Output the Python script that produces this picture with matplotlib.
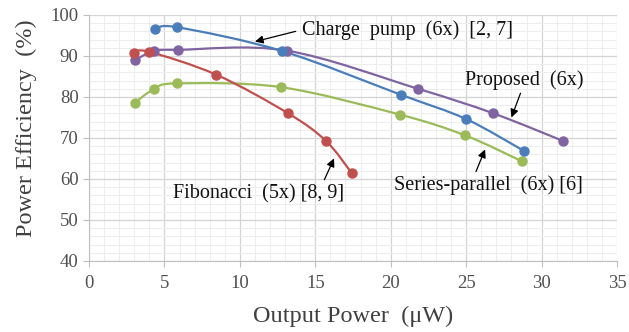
#Eficiencia vs potencia de salida, comparacion de topologias

import numpy as np
import matplotlib.pyplot as plt
from matplotlib.path import Path
from matplotlib.patches import PathPatch
from matplotlib.ticker import MultipleLocator

plt.rcParams['font.family'] = ['Liberation Serif', 'DejaVu Serif']

# Datos ------------------------------------------------------------------
cp_x = [4.4, 5.85, 12.8, 20.7, 25.0, 28.8]
cp_y = [96.5, 97.0, 91.2, 80.5, 74.6, 66.9]

prop_x = [3.05, 4.3, 5.9, 13.1, 21.8, 26.8, 31.4]
prop_y = [89.0, 91.2, 91.5, 91.3, 82.0, 76.0, 69.3]

sp_x = [3.05, 4.3, 5.85, 12.7, 20.6, 24.95, 28.7]
sp_y = [78.6, 81.9, 83.3, 82.4, 75.7, 70.6, 64.3]

fib_x = [2.95, 4.0, 8.45, 13.2, 15.7, 17.4]
fib_y = [90.8, 91.0, 85.4, 76.0, 69.3, 61.5]

xticks = [0, 5, 10, 15, 20, 25, 30, 35]
yticks = [40, 50, 60, 70, 80, 90, 100]

#Defino funciones
def curva_suave(ax, x, y, color):
    # curva tipo Excel (Catmull-Rom como Bezier cubica)
    p = np.column_stack([x, y])
    verts = [p[0]]
    codes = [Path.MOVETO]
    n = len(p)
    for i in range(n - 1):
        p0 = p[i - 1] if i > 0 else p[i]
        p3 = p[i + 2] if i + 2 < n else p[i + 1]
        c1 = p[i] + (p[i + 1] - p0) / 6.0
        c2 = p[i + 1] - (p3 - p[i]) / 6.0
        verts += [c1, c2, p[i + 1]]
        codes += [Path.CURVE4] * 3
    ax.add_patch(PathPatch(Path(verts, codes), facecolor='none',
                           edgecolor=color, lw=1.6, zorder=3))
    ax.plot(x, y, 'o', color=color, ms=6.5, zorder=4)

def etiqueta(ax, texto, pos_texto, cola, punta):
    ax.text(pos_texto[0], pos_texto[1], texto, fontsize=14.5,
            va='center', ha='left', color='#111111', zorder=5)
    ax.annotate('', xy=punta, xytext=cola,
                arrowprops=dict(arrowstyle='-|>', color='black', lw=0.9,
                                mutation_scale=12, shrinkA=0, shrinkB=0))

fig = plt.figure(figsize=(6.29, 3.32), dpi=100)
ax = fig.add_axes([0.1415, 0.214, 0.8395, 0.741])

curva_suave(ax, prop_x, prop_y, '#8064A2')
curva_suave(ax, sp_x, sp_y, '#9BBB59')
curva_suave(ax, fib_x, fib_y, '#C0504D')
curva_suave(ax, cp_x, cp_y, '#4A7EBB')

ax.set_xlim(0, 35)
ax.set_ylim(40, 100)
ax.set_xticks(xticks)
ax.set_yticks(yticks)
ax.xaxis.set_minor_locator(MultipleLocator(1))
ax.yaxis.set_minor_locator(MultipleLocator(2))
ax.grid(which='major', color='#D4D4D4', lw=0.9, zorder=1)
ax.grid(which='minor', color='#EDEDED', lw=0.7, zorder=0)
ax.set_axisbelow(True)

for s in ['top', 'right']:
    ax.spines[s].set_visible(False)
for s in ['left', 'bottom']:
    ax.spines[s].set_color('#BFBFBF')
ax.tick_params(which='major', colors='#BFBFBF', labelcolor='#505050',
               labelsize=13.5, length=4)
ax.tick_params(which='minor', length=0)
ax.tick_params(axis='x', pad=6)

ax.set_xlabel(u'Output Power  (\u03bcW)', fontsize=17.5, color='#404040', labelpad=10)
ax.set_ylabel('Power Efficiency  (%)', fontsize=17.5, color='#404040', labelpad=10)
ax.yaxis.label.set_y(0.54)

etiqueta(ax, 'Charge  pump  (6x)  [2, 7]', (14.1, 96.3), (13.7, 96.0), (11.0, 93.5))
etiqueta(ax, 'Proposed  (6x)', (24.9, 84.1), (28.6, 80.9), (28.0, 75.0))
etiqueta(ax, 'Series-parallel  (6x) [6]', (20.2, 58.5), (25.65, 61.8), (26.25, 67.2))
etiqueta(ax, 'Fibonacci  (5x) [8, 9]', (5.55, 56.3), (15.6, 59.8), (16.24, 65.0))

plt.savefig('out.png', dpi=100)
